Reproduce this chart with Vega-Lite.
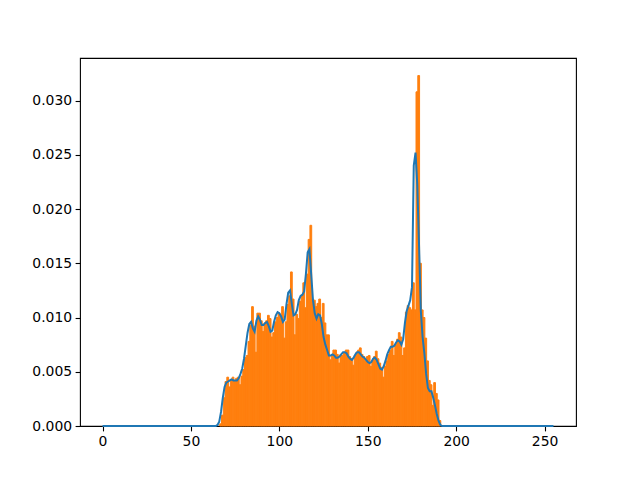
{
  "$schema": "https://vega.github.io/schema/vega-lite/v6.json",
  "width": 496,
  "height": 368,
  "autosize": {"type": "none"},
  "padding": {"left": 80, "top": 58, "right": 64, "bottom": 52},
  "background": "white",
  "config": {
    "view": {"stroke": "black", "strokeWidth": 1.1},
    "font": "DejaVu Sans",
    "axis": {
      "domain": false,
      "grid": false,
      "ticks": true,
      "tickColor": "black",
      "tickSize": 4.9,
      "tickWidth": 1.1,
      "labelFont": "DejaVu Sans",
      "labelFontSize": 13.9,
      "labelColor": "black",
      "labelPadding": 3.5,
      "title": null
    }
  },
  "datasets": {
    "hist": [
      {"bin": 66, "end": 67, "density": 0.0002}, {"bin": 67, "end": 68, "density": 0.0010}, {"bin": 68, "end": 69, "density": 0.0026}, {"bin": 69, "end": 70, "density": 0.0041},
      {"bin": 70, "end": 71, "density": 0.0045}, {"bin": 71, "end": 72, "density": 0.0036}, {"bin": 72, "end": 73, "density": 0.0043}, {"bin": 73, "end": 74, "density": 0.0045},
      {"bin": 74, "end": 75, "density": 0.0041}, {"bin": 75, "end": 76, "density": 0.0044}, {"bin": 76, "end": 77, "density": 0.0045}, {"bin": 77, "end": 78, "density": 0.0038},
      {"bin": 78, "end": 79, "density": 0.0046}, {"bin": 79, "end": 80, "density": 0.0052}, {"bin": 80, "end": 81, "density": 0.0063}, {"bin": 81, "end": 82, "density": 0.0065},
      {"bin": 82, "end": 83, "density": 0.0078}, {"bin": 83, "end": 84, "density": 0.0093}, {"bin": 84, "end": 85, "density": 0.0110}, {"bin": 85, "end": 86, "density": 0.0092},
      {"bin": 86, "end": 87, "density": 0.0068}, {"bin": 87, "end": 88, "density": 0.0104}, {"bin": 88, "end": 89, "density": 0.0104}, {"bin": 89, "end": 90, "density": 0.0097},
      {"bin": 90, "end": 91, "density": 0.0087}, {"bin": 91, "end": 92, "density": 0.0095}, {"bin": 92, "end": 93, "density": 0.0097}, {"bin": 93, "end": 94, "density": 0.0102},
      {"bin": 94, "end": 95, "density": 0.0099}, {"bin": 95, "end": 96, "density": 0.0082}, {"bin": 96, "end": 97, "density": 0.0086}, {"bin": 97, "end": 98, "density": 0.0096},
      {"bin": 98, "end": 99, "density": 0.0100}, {"bin": 99, "end": 100, "density": 0.0104}, {"bin": 100, "end": 101, "density": 0.0102}, {"bin": 101, "end": 102, "density": 0.0110},
      {"bin": 102, "end": 103, "density": 0.0081}, {"bin": 103, "end": 104, "density": 0.0096}, {"bin": 104, "end": 105, "density": 0.0112}, {"bin": 105, "end": 106, "density": 0.0120},
      {"bin": 106, "end": 107, "density": 0.0142}, {"bin": 107, "end": 108, "density": 0.0117}, {"bin": 108, "end": 109, "density": 0.0084}, {"bin": 109, "end": 110, "density": 0.0103},
      {"bin": 110, "end": 111, "density": 0.0099}, {"bin": 111, "end": 112, "density": 0.0115}, {"bin": 112, "end": 113, "density": 0.0120}, {"bin": 113, "end": 114, "density": 0.0132},
      {"bin": 114, "end": 115, "density": 0.0109}, {"bin": 115, "end": 116, "density": 0.0140}, {"bin": 116, "end": 117, "density": 0.0172}, {"bin": 117, "end": 118, "density": 0.0185},
      {"bin": 118, "end": 119, "density": 0.0117}, {"bin": 119, "end": 120, "density": 0.0116}, {"bin": 120, "end": 121, "density": 0.0110}, {"bin": 121, "end": 122, "density": 0.0113},
      {"bin": 122, "end": 123, "density": 0.0117}, {"bin": 123, "end": 124, "density": 0.0100}, {"bin": 124, "end": 125, "density": 0.0113}, {"bin": 125, "end": 126, "density": 0.0095},
      {"bin": 126, "end": 127, "density": 0.0084}, {"bin": 127, "end": 128, "density": 0.0084}, {"bin": 128, "end": 129, "density": 0.0061}, {"bin": 129, "end": 130, "density": 0.0065},
      {"bin": 130, "end": 131, "density": 0.0070}, {"bin": 131, "end": 132, "density": 0.0070}, {"bin": 132, "end": 133, "density": 0.0066}, {"bin": 133, "end": 134, "density": 0.0058},
      {"bin": 134, "end": 135, "density": 0.0066}, {"bin": 135, "end": 136, "density": 0.0065}, {"bin": 136, "end": 137, "density": 0.0068}, {"bin": 137, "end": 138, "density": 0.0070},
      {"bin": 138, "end": 139, "density": 0.0070}, {"bin": 139, "end": 140, "density": 0.0064}, {"bin": 140, "end": 141, "density": 0.0062}, {"bin": 141, "end": 142, "density": 0.0056},
      {"bin": 142, "end": 143, "density": 0.0065}, {"bin": 143, "end": 144, "density": 0.0068}, {"bin": 144, "end": 145, "density": 0.0070}, {"bin": 145, "end": 146, "density": 0.0072},
      {"bin": 146, "end": 147, "density": 0.0066}, {"bin": 147, "end": 148, "density": 0.0064}, {"bin": 148, "end": 149, "density": 0.0060}, {"bin": 149, "end": 150, "density": 0.0064},
      {"bin": 150, "end": 151, "density": 0.0065}, {"bin": 151, "end": 152, "density": 0.0055}, {"bin": 152, "end": 153, "density": 0.0060}, {"bin": 153, "end": 154, "density": 0.0064},
      {"bin": 154, "end": 155, "density": 0.0069}, {"bin": 155, "end": 156, "density": 0.0062}, {"bin": 156, "end": 157, "density": 0.0058}, {"bin": 157, "end": 158, "density": 0.0054},
      {"bin": 158, "end": 159, "density": 0.0045}, {"bin": 159, "end": 160, "density": 0.0055}, {"bin": 160, "end": 161, "density": 0.0060}, {"bin": 161, "end": 162, "density": 0.0066},
      {"bin": 162, "end": 163, "density": 0.0070}, {"bin": 163, "end": 164, "density": 0.0078}, {"bin": 164, "end": 165, "density": 0.0065}, {"bin": 165, "end": 166, "density": 0.0075},
      {"bin": 166, "end": 167, "density": 0.0080}, {"bin": 167, "end": 168, "density": 0.0086}, {"bin": 168, "end": 169, "density": 0.0082}, {"bin": 169, "end": 170, "density": 0.0065},
      {"bin": 170, "end": 171, "density": 0.0072}, {"bin": 171, "end": 172, "density": 0.0105}, {"bin": 172, "end": 173, "density": 0.0111}, {"bin": 173, "end": 174, "density": 0.0109},
      {"bin": 174, "end": 175, "density": 0.0107}, {"bin": 175, "end": 176, "density": 0.0132}, {"bin": 176, "end": 177, "density": 0.0107}, {"bin": 177, "end": 178, "density": 0.0308},
      {"bin": 178, "end": 179, "density": 0.0323}, {"bin": 179, "end": 180, "density": 0.0150}, {"bin": 180, "end": 181, "density": 0.0107}, {"bin": 181, "end": 182, "density": 0.0100},
      {"bin": 182, "end": 183, "density": 0.0081}, {"bin": 183, "end": 184, "density": 0.0060}, {"bin": 184, "end": 185, "density": 0.0042}, {"bin": 185, "end": 186, "density": 0.0038},
      {"bin": 186, "end": 187, "density": 0.0019}, {"bin": 187, "end": 188, "density": 0.0040}, {"bin": 188, "end": 189, "density": 0.0030}, {"bin": 189, "end": 190, "density": 0.0024},
      {"bin": 190, "end": 191, "density": 0.0005}
    ],
    "kde": [
      {"x": 0, "d": 0}, {"x": 64, "d": 0}, {"x": 65, "d": 0.0001}, {"x": 66, "d": 0.0004}, {"x": 67, "d": 0.0013},
      {"x": 68, "d": 0.0026}, {"x": 69, "d": 0.0036}, {"x": 70, "d": 0.0040}, {"x": 71, "d": 0.0041}, {"x": 72, "d": 0.0042},
      {"x": 73, "d": 0.0043}, {"x": 74, "d": 0.0042}, {"x": 75, "d": 0.0042}, {"x": 76, "d": 0.0042}, {"x": 77, "d": 0.0044},
      {"x": 78, "d": 0.0048}, {"x": 79, "d": 0.0053}, {"x": 80, "d": 0.0062}, {"x": 81, "d": 0.0074}, {"x": 82, "d": 0.0086},
      {"x": 83, "d": 0.0094}, {"x": 84, "d": 0.0096}, {"x": 85, "d": 0.0090}, {"x": 86, "d": 0.0087}, {"x": 87, "d": 0.0097},
      {"x": 88, "d": 0.0101}, {"x": 89, "d": 0.0098}, {"x": 90, "d": 0.0093}, {"x": 91, "d": 0.0093}, {"x": 92, "d": 0.0095},
      {"x": 93, "d": 0.0096}, {"x": 94, "d": 0.0092}, {"x": 95, "d": 0.0087}, {"x": 96, "d": 0.0088}, {"x": 97, "d": 0.0096},
      {"x": 98, "d": 0.0102}, {"x": 99, "d": 0.0105}, {"x": 100, "d": 0.0104}, {"x": 101, "d": 0.0101}, {"x": 102, "d": 0.0096},
      {"x": 103, "d": 0.0098}, {"x": 104, "d": 0.0112}, {"x": 105, "d": 0.0123}, {"x": 106, "d": 0.0125}, {"x": 107, "d": 0.0113},
      {"x": 108, "d": 0.0102}, {"x": 109, "d": 0.0103}, {"x": 110, "d": 0.0107}, {"x": 111, "d": 0.0116}, {"x": 112, "d": 0.0120},
      {"x": 113, "d": 0.0121}, {"x": 114, "d": 0.0124}, {"x": 115, "d": 0.0140}, {"x": 116, "d": 0.0160}, {"x": 117, "d": 0.0163},
      {"x": 118, "d": 0.0140}, {"x": 119, "d": 0.0116}, {"x": 120, "d": 0.0104}, {"x": 121, "d": 0.0099}, {"x": 122, "d": 0.0103},
      {"x": 123, "d": 0.0102}, {"x": 124, "d": 0.0094}, {"x": 125, "d": 0.0082}, {"x": 126, "d": 0.0075}, {"x": 127, "d": 0.0070},
      {"x": 128, "d": 0.0065}, {"x": 129, "d": 0.0065}, {"x": 130, "d": 0.0066}, {"x": 131, "d": 0.0065}, {"x": 132, "d": 0.0063},
      {"x": 133, "d": 0.0063}, {"x": 134, "d": 0.0064}, {"x": 135, "d": 0.0066}, {"x": 136, "d": 0.0068}, {"x": 137, "d": 0.0068},
      {"x": 138, "d": 0.0067}, {"x": 139, "d": 0.0064}, {"x": 140, "d": 0.0062}, {"x": 141, "d": 0.0061}, {"x": 142, "d": 0.0063},
      {"x": 143, "d": 0.0066}, {"x": 144, "d": 0.0068}, {"x": 145, "d": 0.0068}, {"x": 146, "d": 0.0066}, {"x": 147, "d": 0.0064},
      {"x": 148, "d": 0.0063}, {"x": 149, "d": 0.0061}, {"x": 150, "d": 0.0059}, {"x": 151, "d": 0.0058}, {"x": 152, "d": 0.0059},
      {"x": 153, "d": 0.0062}, {"x": 154, "d": 0.0063}, {"x": 155, "d": 0.0061}, {"x": 156, "d": 0.0057}, {"x": 157, "d": 0.0053},
      {"x": 158, "d": 0.0052}, {"x": 159, "d": 0.0055}, {"x": 160, "d": 0.0060}, {"x": 161, "d": 0.0066}, {"x": 162, "d": 0.0070},
      {"x": 163, "d": 0.0073}, {"x": 164, "d": 0.0073}, {"x": 165, "d": 0.0074}, {"x": 166, "d": 0.0077}, {"x": 167, "d": 0.0079},
      {"x": 168, "d": 0.0078}, {"x": 169, "d": 0.0075}, {"x": 170, "d": 0.0080}, {"x": 171, "d": 0.0095}, {"x": 172, "d": 0.0106},
      {"x": 173, "d": 0.0111}, {"x": 174, "d": 0.0116}, {"x": 175, "d": 0.0128}, {"x": 176, "d": 0.0240}, {"x": 177, "d": 0.0252},
      {"x": 178, "d": 0.0222}, {"x": 179, "d": 0.0166}, {"x": 180, "d": 0.0106}, {"x": 181, "d": 0.0082}, {"x": 182, "d": 0.0067},
      {"x": 183, "d": 0.0048}, {"x": 184, "d": 0.0035}, {"x": 185, "d": 0.0032}, {"x": 186, "d": 0.0032}, {"x": 187, "d": 0.0026},
      {"x": 188, "d": 0.0019}, {"x": 189, "d": 0.0011}, {"x": 190, "d": 0.0005}, {"x": 191, "d": 0.0001}, {"x": 192, "d": 0},
      {"x": 255, "d": 0}
    ]
  },
  "layer": [
    {
      "data": {"name": "hist"},
      "mark": {"type": "bar", "color": "#ff7f0e", "stroke": "#ff7f0e", "strokeWidth": 1, "binSpacing": 0},
      "encoding": {
        "x": {"field": "bin", "type": "quantitative", "bin": {"binned": true},
              "scale": {"domain": [-12.75, 267.75], "nice": false, "zero": false},
              "axis": {"values": [0, 50, 100, 150, 200, 250], "format": "d"}},
        "x2": {"field": "end"},
        "y": {"field": "density", "type": "quantitative",
              "scale": {"domain": [0, 0.03392], "nice": false},
              "axis": {"values": [0, 0.005, 0.01, 0.015, 0.02, 0.025, 0.03], "format": ".3f"}}
      }
    },
    {
      "data": {"name": "kde"},
      "mark": {"type": "line", "color": "#1f77b4", "strokeWidth": 2},
      "encoding": {
        "x": {"field": "x", "type": "quantitative"},
        "y": {"field": "d", "type": "quantitative"}
      }
    }
  ]
}
